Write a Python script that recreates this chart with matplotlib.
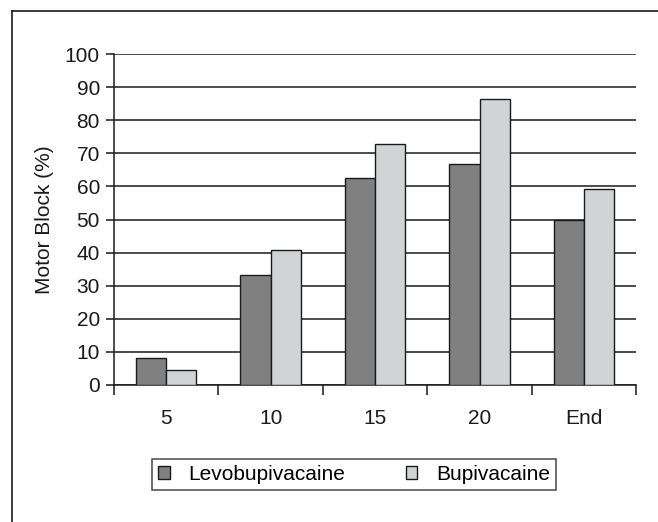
import numpy as np
import matplotlib
matplotlib.use('Agg')
import matplotlib.pyplot as plt
from matplotlib.lines import Line2D
from matplotlib.patches import Patch

categories = ['5', '10', '15', '20', 'End']
levobupivacaine = [8.3, 33.3, 62.5, 66.7, 50.0]
bupivacaine = [4.5, 40.9, 72.7, 86.4, 59.1]

plt.rcParams['font.family'] = ['Liberation Sans', 'DejaVu Sans']
fs = 15

fig = plt.figure(figsize=(6.58, 5.22), dpi=100)
ax = fig.add_axes([0.173, 0.2625, 0.794, 0.634])

x = np.arange(len(categories)) + 0.5
w = 0.29
ax.bar(x - w / 2, levobupivacaine, w, color='#808080', edgecolor='#1a1a1a', linewidth=1, zorder=3)
ax.bar(x + w / 2, bupivacaine, w, color='#d2d3d5', edgecolor='#1a1a1a', linewidth=1, zorder=3)

ax.set_xlim(0, len(categories))
ax.set_ylim(0, 100)
ax.set_yticks(range(0, 101, 10))
ax.yaxis.grid(True, color='#1a1a1a', linewidth=1.1)
ax.set_axisbelow(True)

ax.set_xticks(range(len(categories) + 1))
ax.set_xticklabels([])
ax.set_xticks(x, minor=True)
ax.set_xticklabels(categories, minor=True)
ax.tick_params(axis='x', which='major', length=7, width=1.1, color='#1a1a1a', direction='out')
ax.tick_params(axis='x', which='minor', length=0, pad=17, labelsize=fs, labelcolor='#1a1a1a')
ax.tick_params(axis='y', length=6, width=1.1, color='#1a1a1a', labelsize=fs, labelcolor='#1a1a1a', pad=4)

for s in ['top', 'right']:
    ax.spines[s].set_visible(False)
for s in ['left', 'bottom']:
    ax.spines[s].set_color('#1a1a1a')
    ax.spines[s].set_linewidth(1.1)

ax.set_ylabel('Motor Block (%)', fontsize=fs, color='#1a1a1a', labelpad=8)

handles = [Patch(facecolor='#808080', edgecolor='#1a1a1a', label='Levobupivacaine'),
           Patch(facecolor='#d2d3d5', edgecolor='#1a1a1a', label='Bupivacaine')]
leg = fig.legend(handles=handles, loc='center', bbox_to_anchor=(0.538, 0.091), ncol=2,
                 fontsize=fs, frameon=True, fancybox=False, edgecolor='#1a1a1a',
                 handlelength=0.55, handleheight=0.55, columnspacing=2.9, handletextpad=0.9,
                 borderpad=0.3, borderaxespad=0)
leg.get_frame().set_linewidth(1.1)

# outer frame (only top and left edges visible)
fig.add_artist(Line2D([12 / 658, 12 / 658], [0, 1 - 11 / 522], transform=fig.transFigure,
                      color='#1a1a1a', linewidth=1.2))
fig.add_artist(Line2D([12 / 658, 1], [1 - 11 / 522, 1 - 11 / 522], transform=fig.transFigure,
                      color='#1a1a1a', linewidth=1.2))

fig.savefig('out.png', dpi=100)
